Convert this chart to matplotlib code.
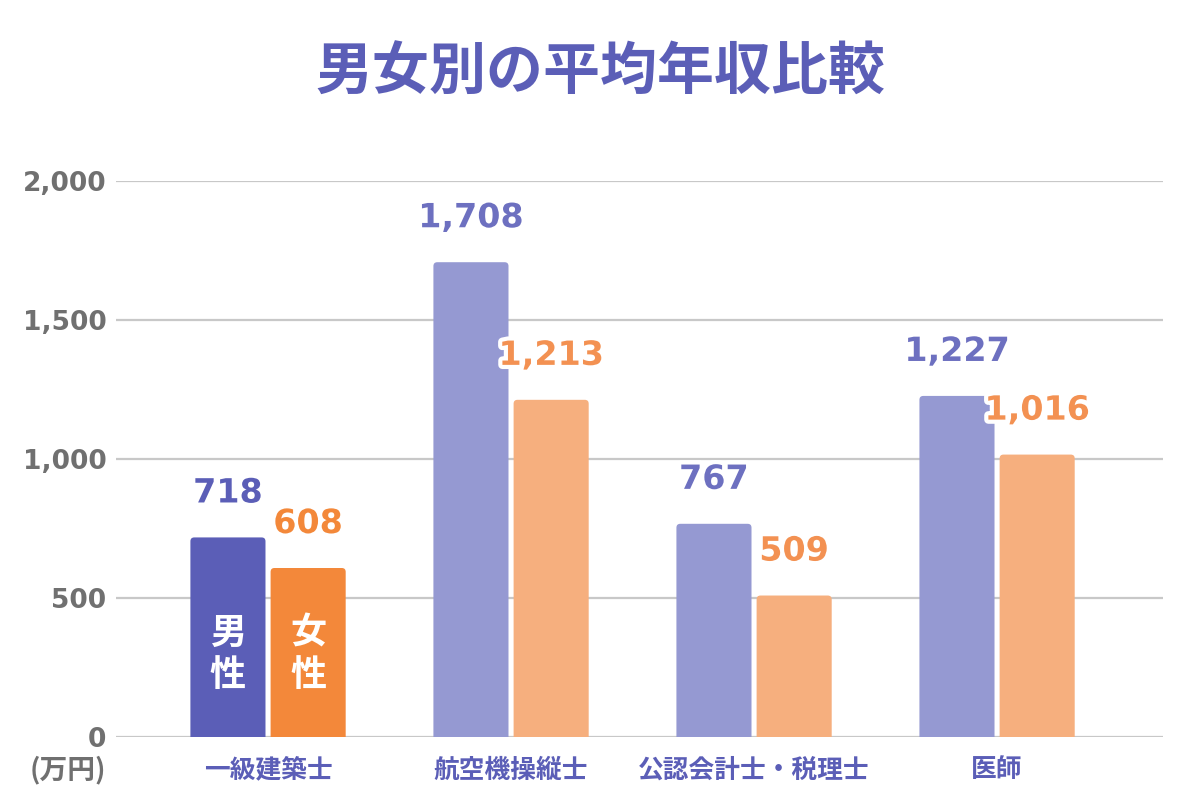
import matplotlib
matplotlib.use('Agg')
import matplotlib.pyplot as plt
import matplotlib.patheffects as pe
from matplotlib.patches import FancyBboxPatch

plt.rcParams['font.family'] = ['Noto Sans CJK JP', 'DejaVu Sans']

# Data
categories = ['一級建築士', '航空機操縦士', '公認会計士・税理士', '医師']
male = [718, 1708, 767, 1227]
female = [608, 1213, 509, 1016]
yticks = [0, 500, 1000, 1500, 2000]

PURPLE = '#5b5eb7'
ORANGE = '#f3883a'
PURPLE_LIGHT = '#9599d2'
ORANGE_LIGHT = '#f6af7e'
PURPLE_TEXT = '#6d70c0'
ORANGE_TEXT = '#f39152'
GRAY = '#707070'
NUM_FONT = ['DejaVu Sans']

fig = plt.figure(figsize=(12, 8.1), dpi=100)
ax = fig.add_axes([0.0967, 0.0901, 0.8725, 0.6864])

width = 0.309
off = 0.165
xs = list(range(len(categories)))

def rounded(bars, colors):
  # swap plain bars for bars with slightly rounded corners
  for bar, color in zip(bars, colors):
    x, w, h = bar.get_x(), bar.get_width(), bar.get_height()
    patch = FancyBboxPatch((x, -40), w, h + 40,
                           boxstyle='round,pad=0,rounding_size=0.016',
                           mutation_aspect=870, facecolor=color,
                           edgecolor='none', zorder=3, clip_on=True)
    ax.add_patch(patch)
    bar.set_visible(False)

mb = ax.bar([x - off for x in xs], male, width)
fb = ax.bar([x + off for x in xs], female, width)
rounded(mb, [PURPLE] + [PURPLE_LIGHT] * 3)
rounded(fb, [ORANGE] + [ORANGE_LIGHT] * 3)

stroke = [pe.withStroke(linewidth=6, foreground='white')]
for i, x in enumerate(xs):
  mc = PURPLE if i == 0 else PURPLE_TEXT
  fc = ORANGE if i == 0 else ORANGE_TEXT
  ax.annotate('{:,}'.format(male[i]), (x - off, male[i]), xytext=(0, 32),
              textcoords='offset points', ha='center', va='center',
              fontsize=24, fontweight='bold', family=NUM_FONT, color=mc,
              path_effects=stroke, zorder=5)
  ax.annotate('{:,}'.format(female[i]), (x + off, female[i]), xytext=(0, 32),
              textcoords='offset points', ha='center', va='center',
              fontsize=24, fontweight='bold', family=NUM_FONT, color=fc,
              path_effects=stroke, zorder=5)

# Legend text inside the first pair of bars
ax.text(-off, 297, '男\n性', ha='center', va='center', fontsize=26,
        fontweight='bold', color='white', linespacing=1.2, zorder=6)
ax.text(off, 297, '女\n性', ha='center', va='center', fontsize=26,
        fontweight='bold', color='white', linespacing=1.2, zorder=6)

ax.set_xlim(-0.6255, 3.683)
ax.set_ylim(0, 2000)
ax.set_yticks(yticks)
ax.set_yticklabels(['{:,}'.format(v) for v in yticks], fontsize=19,
                   fontweight='bold', color=GRAY, family=NUM_FONT)
ax.set_xticks(xs)
ax.set_xticklabels(categories, fontsize=18.5, fontweight='bold', color=PURPLE)
ax.tick_params(axis='y', length=0, pad=7)
ax.tick_params(axis='x', length=0, pad=14)
ax.grid(axis='y', color='#c8c8c8', linewidth=1.6, zorder=0)
ax.set_axisbelow(True)
for s in ax.spines.values():
  s.set_visible(False)

fig.text(0.0883, 0.050, '(万円)', ha='right', va='center', fontsize=20,
         fontweight='bold', color=GRAY)
fig.suptitle('男女別の平均年収比較', x=0.5, y=0.946, fontsize=41,
             fontweight='bold', color=PURPLE)

plt.savefig('out.png', dpi=100)
plt.close()
